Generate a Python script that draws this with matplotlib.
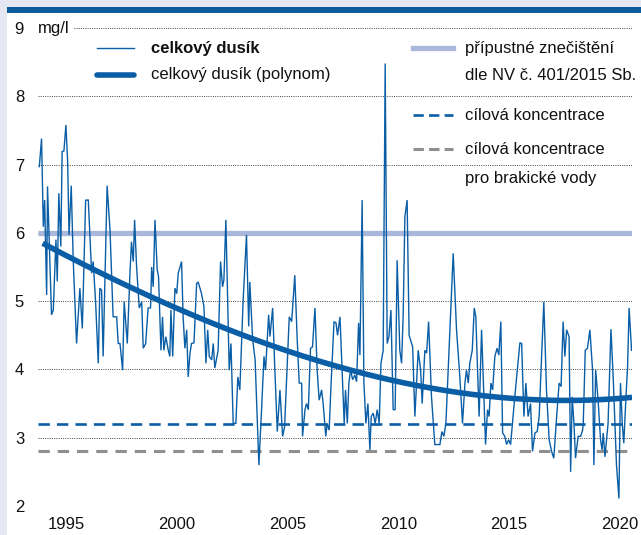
import matplotlib
matplotlib.use('Agg')
import matplotlib.pyplot as plt
from matplotlib.patches import Rectangle
from matplotlib.lines import Line2D
import numpy as np

# ---- data ----
years = [
    1993.80, 1993.90, 1993.98, 1994.04, 1994.13, 1994.17, 1994.35, 1994.43, 1994.55, 1994.61,
    1994.68, 1994.77, 1994.83, 1994.91, 1995.00, 1995.08, 1995.14, 1995.24, 1995.33, 1995.48,
    1995.63, 1995.74, 1995.89, 1996.01, 1996.16, 1996.23, 1996.34, 1996.46, 1996.53, 1996.61,
    1996.68, 1996.86, 1996.99, 1997.13, 1997.29, 1997.36, 1997.44, 1997.56, 1997.63, 1997.77,
    1997.89, 1997.96, 1998.04, 1998.10, 1998.19, 1998.31, 1998.42, 1998.49, 1998.60, 1998.71,
    1998.82, 1998.87, 1998.94, 1999.02, 1999.12, 1999.18, 1999.29, 1999.36, 1999.42, 1999.51,
    1999.62, 1999.69, 1999.74, 1999.82, 1999.92, 2000.00, 2000.07, 2000.22, 2000.29, 2000.37,
    2000.45, 2000.52, 2000.60, 2000.67, 2000.78, 2000.90, 2000.97, 2001.12, 2001.23, 2001.32,
    2001.40, 2001.47, 2001.58, 2001.65, 2001.72, 2001.87, 2001.98, 2002.07, 2002.13, 2002.22,
    2002.37, 2002.45, 2002.55, 2002.67, 2002.76, 2002.85, 2003.00, 2003.15, 2003.25, 2003.30,
    2003.43, 2003.54, 2003.63, 2003.71, 2003.83, 2003.94, 2004.01, 2004.15, 2004.21, 2004.33,
    2004.42, 2004.54, 2004.66, 2004.78, 2004.87, 2004.96, 2005.08, 2005.19, 2005.33, 2005.44,
    2005.53, 2005.64, 2005.68, 2005.79, 2005.86, 2005.94, 2006.04, 2006.13, 2006.24, 2006.34,
    2006.43, 2006.54, 2006.61, 2006.73, 2006.79, 2006.88, 2006.97, 2007.10, 2007.19, 2007.26,
    2007.37, 2007.49, 2007.56, 2007.62, 2007.70, 2007.77, 2007.85, 2007.94, 2008.04, 2008.12,
    2008.21, 2008.27, 2008.37, 2008.45, 2008.54, 2008.63, 2008.72, 2008.78, 2008.87, 2008.96,
    2009.05, 2009.14, 2009.22, 2009.32, 2009.41, 2009.50, 2009.58, 2009.67, 2009.77, 2009.86,
    2009.95, 2010.07, 2010.15, 2010.22, 2010.30, 2010.40, 2010.49, 2010.65, 2010.75, 2010.90,
    2011.01, 2011.08, 2011.20, 2011.28, 2011.37, 2011.50, 2011.65, 2011.88, 2011.97, 2012.06,
    2012.15, 2012.48, 2012.63, 2012.78, 2012.90, 2013.01, 2013.08, 2013.16, 2013.23, 2013.34,
    2013.43, 2013.50, 2013.65, 2013.76, 2013.94, 2014.03, 2014.10, 2014.18, 2014.26, 2014.36,
    2014.46, 2014.54, 2014.63, 2014.71, 2014.81, 2014.89, 2014.98, 2015.07, 2015.26, 2015.39,
    2015.49, 2015.57, 2015.67, 2015.76, 2015.86, 2015.97, 2016.06, 2016.17, 2016.27, 2016.36,
    2016.57, 2016.69, 2016.81, 2016.92, 2017.02, 2017.15, 2017.26, 2017.35, 2017.44, 2017.52,
    2017.60, 2017.71, 2017.78, 2017.85, 2017.93, 2018.00, 2018.12, 2018.23, 2018.32, 2018.35,
    2018.44, 2018.54, 2018.65, 2018.77, 2018.83, 2018.91, 2019.02, 2019.13, 2019.20, 2019.25,
    2019.33, 2019.47, 2019.60, 2019.70, 2019.85, 2019.96, 2020.03, 2020.11, 2020.18, 2020.27,
    2020.35, 2020.42, 2020.53,
]
values = [
    6.97, 7.38, 6.09, 6.48, 5.09, 6.68, 4.80, 4.87, 5.90, 5.29,
    6.58, 5.80, 7.19, 7.20, 7.58, 7.02, 5.97, 6.69, 5.60, 4.38,
    5.19, 4.60, 6.48, 6.48, 5.41, 5.58, 4.99, 4.09, 5.19, 5.16,
    4.19, 6.69, 6.04, 4.77, 4.77, 4.38, 4.38, 3.99, 4.99, 4.38,
    5.41, 5.87, 5.58, 6.19, 5.50, 4.90, 4.99, 4.31, 4.38, 4.90,
    4.90, 5.50, 5.21, 6.19, 5.46, 5.36, 4.28, 4.77, 4.28, 4.48,
    4.28, 4.19, 4.87, 4.19, 5.19, 5.11, 5.41, 5.58, 4.77, 4.31,
    4.58, 3.89, 4.24, 4.38, 4.39, 5.26, 5.28, 5.11, 4.92, 4.09,
    4.58, 4.19, 4.14, 4.38, 4.02, 4.28, 5.58, 5.21, 5.31, 6.19,
    3.99, 4.38, 3.21, 3.21, 3.89, 3.70, 5.02, 5.97, 4.63, 5.28,
    4.43, 4.14, 3.31, 2.60, 3.41, 4.19, 3.99, 4.80, 4.48, 4.90,
    4.09, 3.09, 3.70, 3.02, 3.16, 3.85, 4.77, 4.70, 5.38, 4.43,
    3.80, 3.80, 3.02, 3.41, 3.50, 3.41, 4.31, 4.33, 4.90, 3.99,
    3.55, 3.70, 3.50, 3.02, 3.21, 3.11, 3.80, 4.70, 4.68, 4.50,
    4.77, 3.80, 3.21, 3.70, 3.21, 3.80, 3.99, 3.85, 3.92, 3.82,
    4.68, 4.21, 6.48, 3.80, 3.21, 3.50, 2.82, 3.31, 3.36, 3.21,
    3.41, 3.21, 4.09, 4.28, 8.48, 4.38, 4.48, 4.87, 3.41, 3.41,
    5.60, 4.28, 4.09, 4.77, 6.24, 6.48, 4.50, 4.33, 3.31, 4.28,
    3.99, 3.50, 4.28, 4.24, 4.70, 3.60, 2.90, 2.90, 3.09, 3.02,
    3.21, 5.70, 4.58, 3.89, 3.21, 3.80, 3.99, 3.80, 4.09, 4.28,
    4.90, 4.77, 3.31, 4.58, 2.90, 3.41, 3.31, 3.80, 3.70, 4.19,
    4.31, 4.21, 4.70, 3.07, 3.02, 2.90, 2.97, 2.90, 3.60, 4.04,
    4.39, 4.38, 3.31, 3.80, 3.31, 3.50, 2.80, 3.07, 3.09, 3.31,
    4.99, 3.70, 2.97, 2.80, 2.70, 3.31, 3.80, 3.75, 4.70, 4.19,
    4.58, 4.48, 2.50, 3.60, 3.21, 2.70, 3.02, 3.02, 3.11, 3.21,
    4.28, 4.31, 4.58, 3.99, 2.60, 3.99, 3.55, 2.97, 2.82, 3.07,
    2.72, 3.21, 4.59, 3.89, 2.60, 2.11, 3.80, 3.21, 2.92, 3.55,
    4.04, 4.90, 4.28,
]
trend_years = [1993.95, 1998.79, 2000.14, 2005.11, 2005.56, 2010.98, 2011.88, 2017.74, 2020.55]
trend_values = [5.85, 5.07, 4.87, 4.26, 4.21, 3.77, 3.70, 3.53, 3.60]
limit_value = 6.0          # přípustné znečištění
target_value = 3.2         # cílová koncentrace
target_brackish = 2.8      # cílová koncentrace pro brakické vody
x_ticks = [1995, 2000, 2005, 2010, 2015, 2020]
y_ticks = [2, 3, 4, 5, 6, 7, 8, 9]

# ---- styling ----
plt.rcParams['font.family'] = ['Liberation Sans Narrow', 'Liberation Sans', 'DejaVu Sans']
FS = 12
BLUE = '#0a5ea6'
LIGHT = '#a8b7da'
GRAY = '#8f8f8f'
W, H = 641, 535

fig = plt.figure(figsize=(W / 100, H / 100), dpi=100)
fig.patch.set_facecolor('#e5e7f2')
fig.patches.append(Rectangle((7 / W, 0), 1, (H - 13) / H, transform=fig.transFigure,
                             facecolor='white', edgecolor='none', zorder=-10))
fig.patches.append(Rectangle((7 / W, (H - 13) / H), 1, 5.5 / H, transform=fig.transFigure,
                             facecolor='#0b5b9d', edgecolor='none', zorder=-10))

ax = fig.add_axes([38 / W, 29 / H, 594 / W, 478 / H])
ax.set_zorder(5)
ax.patch.set_visible(False)
for s in ax.spines.values():
    s.set_visible(False)

ax.set_xlim(1993.74, 2020.55)
ax.set_ylim(2, 9)
ax.set_yticks(y_ticks)
ax.set_xticks(x_ticks)
ax.set_yticklabels([str(v) for v in y_ticks])
ax.set_xticklabels([str(v) for v in x_ticks])
ax.tick_params(axis='both', length=0, labelsize=FS, colors='#111111')
ax.tick_params(axis='y', pad=10)
ax.tick_params(axis='x', pad=8)
ax.yaxis.grid(True, linestyle=(0, (1, 1.3)), color='#444444', linewidth=0.7, zorder=1)
ax.set_axisbelow(True)

DASH_BLUE = (0, (4.3, 2.7))
DASH_GRAY = (0, (3.7, 2.6))

ax.axhline(limit_value, color=LIGHT, linewidth=3.8, zorder=2, solid_capstyle='butt')
ax.axhline(target_value, color=BLUE, linewidth=1.9, linestyle=DASH_BLUE, zorder=2)
ax.axhline(target_brackish, color=GRAY, linewidth=2.2, linestyle=DASH_GRAY, zorder=2)

ax.plot(years, values, color=BLUE, linewidth=1.0, zorder=3, solid_joinstyle='miter')

ty = np.array(trend_years)
coef = np.polyfit(ty - 2007, trend_values, 3)
xs = np.linspace(ty[0], ty[-1], 300)
ax.plot(xs, np.polyval(coef, xs - 2007), color=BLUE, linewidth=4.0, zorder=4,
        solid_capstyle='butt')

# unit label next to "9"
ax.text(0.0, 9, 'mg/l', transform=ax.get_yaxis_transform(), ha='left', va='center',
        fontsize=FS, color='#111111', zorder=5,
        bbox=dict(facecolor='white', edgecolor='none', pad=3))

# ---- manual legend (axes fractions) ----
def ax_pt(px, py):
    return (px - 38) / 594, (506 - py) / 478

def sample(x0, x1, y, **kw):
    a = ax_pt(x0, y)
    b = ax_pt(x1, y)
    ax.add_line(Line2D([a[0], b[0]], [a[1], b[1]], transform=ax.transAxes, **kw))

def label(x, y, s, **kw):
    p = ax_pt(x, y)
    ax.text(p[0], p[1], s, transform=ax.transAxes, ha='left', va='center',
            fontsize=FS, color='#111111', **kw)

sample(97, 134, 48, color=BLUE, linewidth=1.0)
label(151, 48, 'celkový dusík', fontweight='bold')
sample(97, 134, 75, color=BLUE, linewidth=4.0, solid_capstyle='round')
label(151, 75, 'celkový dusík (polynom)')

sample(413, 453, 48, color=LIGHT, linewidth=3.8)
label(465, 48, 'přípustné znečištění')
label(465, 76, 'dle NV č. 401/2015 Sb.')
sample(413, 453, 115, color=BLUE, linewidth=1.9, linestyle=(0, (3.9, 2.0)))
label(465, 115, 'cílová koncentrace')
sample(413, 453, 149, color=GRAY, linewidth=2.2, linestyle=(0, (3.4, 1.7)))
label(465, 149, 'cílová koncentrace')
label(465, 178, 'pro brakické vody')

fig.savefig('out.png', dpi=100, facecolor=fig.get_facecolor())
